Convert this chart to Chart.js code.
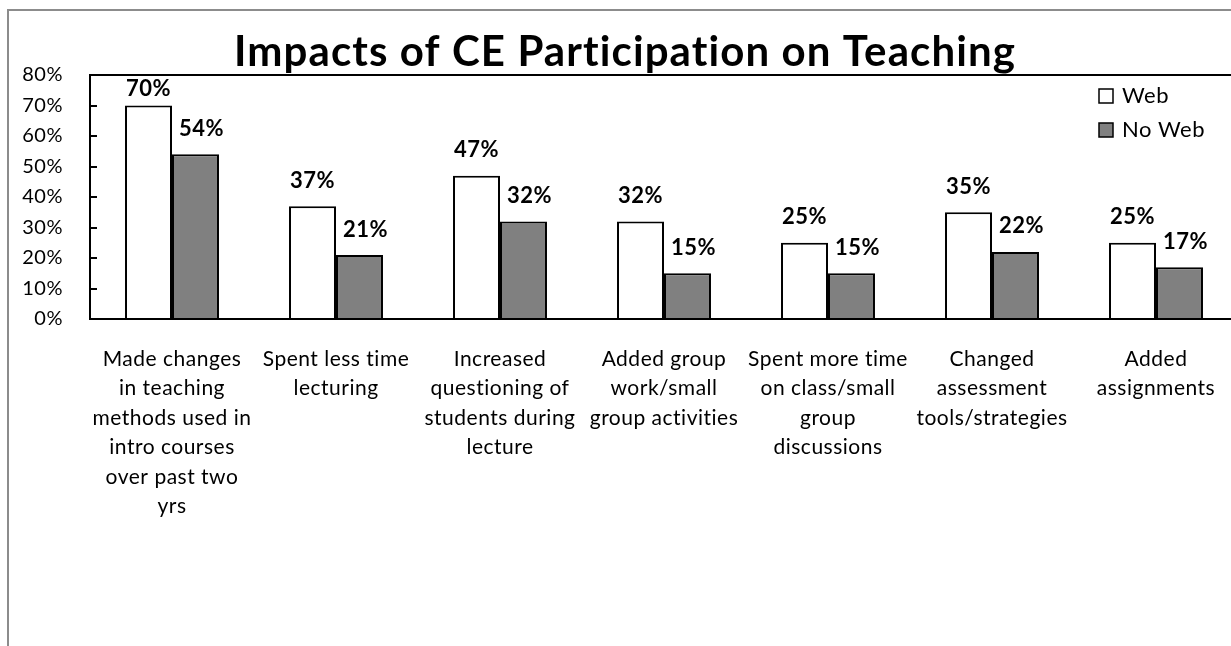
<!DOCTYPE html>
<html>
<head>
<meta charset="utf-8">
<script src="https://cdn.jsdelivr.net/npm/chart.js@4.4.0/dist/chart.umd.min.js"></script>
<style>
  html, body { margin: 0; padding: 0; background: #fff; overflow: hidden; }
  .frame { position: absolute; left: 7px; top: 9px; width: 1300px; height: 700px;
           border-left: 2px solid #8c8c8c; border-top: 2px solid #8c8c8c; }
  .wrap { position: absolute; left: 0; top: 0; width: 1238px; height: 646px; }
</style>
</head>
<body>
<div class="frame"></div>
<div class="wrap"><canvas id="impact-chart"></canvas></div>
<script>
// Chart data
const chartTitle = 'Impacts of CE Participation on Teaching';
const categories = [
    ['Made changes', 'in teaching', 'methods used in', 'intro courses', 'over past two', 'yrs'],
    ['Spent less time', 'lecturing'],
    ['Increased', 'questioning of', 'students during', 'lecture'],
    ['Added group', 'work/small', 'group activities'],
    ['Spent more time', 'on class/small', 'group', 'discussions'],
    ['Changed', 'assessment', 'tools/strategies'],
    ['Added', 'assignments']
];
const webValues = [70, 37, 47, 32, 25, 35, 25];
const noWebValues = [54, 21, 32, 15, 15, 22, 17];
const yTicks = [0, 10, 20, 30, 40, 50, 60, 70, 80];
const seriesNames = ['Web', 'No Web'];
const seriesColors = ['#FFFFFF', '#808080'];

const FONT = 'Lato, "Open Sans", sans-serif';

// slightly wider text, closer to the original (also stops the "ti" ligature)
const spacing = {
    id: 'spacing',
    beforeDraw(chart) { chart.ctx.letterSpacing = '0.5px'; }
};

// value labels above bars
const barLabels = {
    id: 'barLabels',
    afterDatasetsDraw(chart) {
        const ctx = chart.ctx;
        ctx.save();
        ctx.font = 'bold 22px ' + FONT;
        ctx.fillStyle = '#000';
        ctx.textAlign = 'center';
        ctx.textBaseline = 'middle';
        chart.data.datasets.forEach((ds, di) => {
            chart.getDatasetMeta(di).data.forEach((bar, i) => {
                let y = Math.max(bar.y - 25.5, chart.chartArea.top + 14);
                ctx.fillText(ds.data[i] + '%', bar.x + (di === 1 ? 6 : 0), y);
            });
        });
        ctx.restore();
    }
};

// title, small inside ticks on the value axis, legend
const extras = {
    id: 'extras',
    afterDraw(chart) {
        const ctx = chart.ctx;
        const y = chart.scales.y;
        const left = chart.chartArea.left;
        ctx.save();
        ctx.strokeStyle = '#000';
        ctx.lineWidth = 2;
        yTicks.slice(1, -1).forEach(v => {
            const py = Math.round(y.getPixelForValue(v));
            ctx.beginPath();
            ctx.moveTo(left, py);
            ctx.lineTo(left + 7, py);
            ctx.stroke();
        });

        ctx.fillStyle = '#000';
        ctx.letterSpacing = '1.1px';
        ctx.font = 'bold 42px ' + FONT;
        ctx.textAlign = 'center';
        ctx.textBaseline = 'alphabetic';
        ctx.fillText(chartTitle, 625, 66);

        // legend
        ctx.letterSpacing = '0.5px';
        ctx.font = '22px ' + FONT;
        ctx.textBaseline = 'middle';
        ctx.textAlign = 'left';
        seriesNames.forEach((name, i) => {
            const cy = 96 + i * 34;
            ctx.fillStyle = seriesColors[i];
            ctx.fillRect(1099, cy - 7, 14, 14);
            ctx.lineWidth = 1.5;
            ctx.strokeRect(1099, cy - 7, 14, 14);
            ctx.fillStyle = '#000';
            ctx.fillText(name, 1122, cy);
        });
        ctx.restore();
    }
};

new Chart(document.getElementById('impact-chart'), {
    type: 'bar',
    data: {
        labels: categories,
        datasets: seriesNames.map((name, i) => ({
            label: name,
            data: i === 0 ? webValues : noWebValues,
            backgroundColor: seriesColors[i],
            borderColor: '#000',
            borderWidth: 2,
            borderSkipped: 'start',
            barPercentage: 1,
            categoryPercentage: 0.573
        }))
    },
    options: {
        responsive: true,
        maintainAspectRatio: false,
        animation: false,
        layout: { padding: { top: 75 } },
        plugins: {
            legend: { display: false },
            tooltip: { enabled: false },
            title: { display: false }
        },
        scales: {
            x: {
                grid: { display: false, drawTicks: false },
                border: { display: true, color: '#000', width: 2 },
                ticks: {
                    color: '#000', autoSkip: false, maxRotation: 0, padding: 25,
                    font: { family: FONT, size: 21, lineHeight: 1.405 }
                },
                afterFit(scale) { scale.height = 327; }
            },
            y: {
                min: 0, max: 80,
                afterBuildTicks(scale) { scale.ticks = yTicks.map(v => ({ value: v })); },
                grid: {
                    drawTicks: false,
                    color: (c) => c.tick && c.tick.value === 80 ? '#000' : 'rgba(0,0,0,0)',
                    lineWidth: 2
                },
                border: { display: true, color: '#000', width: 2 },
                ticks: {
                    color: '#000', padding: 27,
                    font: { family: FONT, size: 20 },
                    callback: (v) => v + '%'
                },
                afterFit(scale) { scale.width = 90; }
            }
        }
    },
    plugins: [spacing, barLabels, extras]
});
</script>
</body>
</html>
